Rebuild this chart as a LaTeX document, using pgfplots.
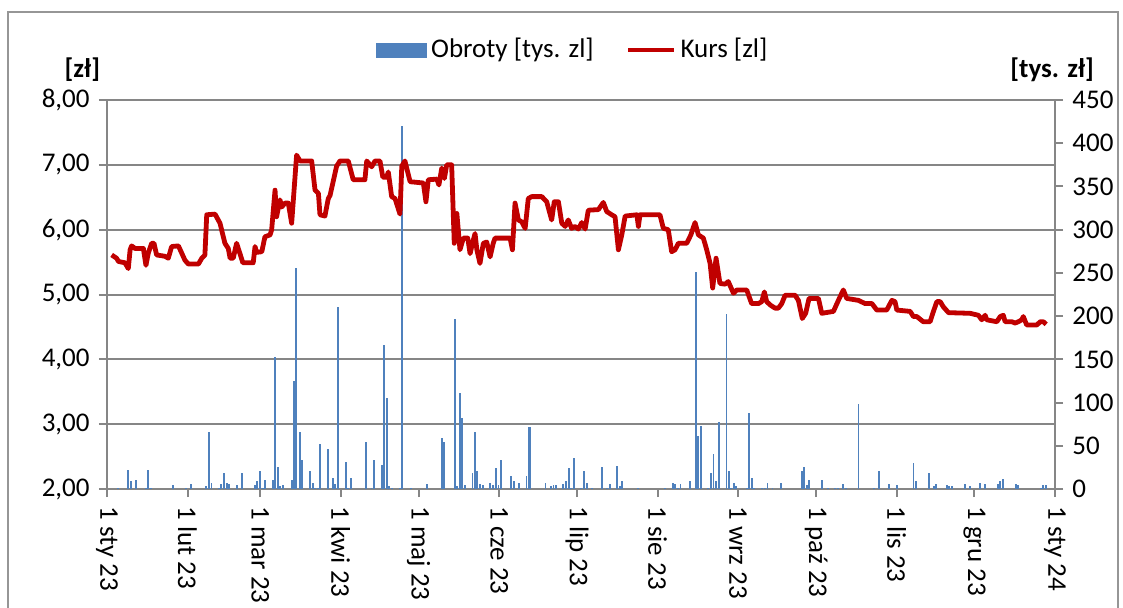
\documentclass[border=0pt]{standalone}
\usepackage{pgfplots}
\pgfplotsset{compat=1.18}
\usepackage{fontspec}
\setmainfont{Carlito}
\definecolor{barblue}{RGB}{79,129,189}
\definecolor{kurs}{RGB}{192,0,0}
\definecolor{gridgray}{RGB}{134,134,134}
\definecolor{framegray}{RGB}{150,150,150}
\pgfplotsset{
  base/.style={
    scale only axis, width=474pt, height=194.5pt,
    at={(0pt,0pt)}, anchor=south west,
    xmin=0, xmax=365,
    /pgf/number format/assume math mode=true,
  }
}
\begin{document}
\fontsize{13.5}{16}\selectfont
\begin{tikzpicture}
\path[use as bounding box] (-53.5pt,-59pt) rectangle (508pt,244.5pt);
\draw[framegray, line width=1pt] (-49.5pt,-62pt) -- (-49.5pt,238.5pt) -- (505.5pt,238.5pt) -- (505.5pt,-62pt);
% axis 1: grid, left scale, dates
\begin{axis}[base,
  ymin=2, ymax=8, ytick={2,3,...,8},
  ymajorgrids, grid style={gridgray, line width=1pt},
  axis x line*=bottom, axis y line*=left,
  axis line style={gridgray, line width=1pt},
  tick style={gridgray, line width=1pt},
  tick align=outside, major tick length=4pt,
  xtick={0,31,59,90,120,151,181,212,243,273,304,334,365},
  xticklabels={1 sty 23,1 lut 23,1 mar 23,1 kwi 23,1 maj 23,1 cze 23,1 lip 23,1 sie 23,1 wrz 23,1 paź 23,1 lis 23,1 gru 23,1 sty 24},
  xticklabel style={rotate=-90, anchor=west, yshift=0pt},
  yticklabel style={/pgf/number format/.cd, fixed, fixed zerofill, precision=2, use comma},
]
\addplot[draw=none] coordinates {(0,2)};
\end{axis}
% axis 2: bars, right scale
\begin{axis}[base,
  ymin=0, ymax=450, ytick={0,50,...,450},
  axis y line*=right, axis x line=none,
  axis line style={gridgray, line width=1pt},
  tick style={gridgray, line width=1pt},
  tick align=outside, major tick length=4pt,
  yticklabel style={/pgf/number format/.cd, fixed},
]
\addplot[ycomb, mark=none, draw=barblue, line width=0.9pt] coordinates {
(4.1,1.5)(8.0,22)(9.1,9)(11.1,10)(14.9,1.5)(15.9,22)(16.9,1.5)(25.4,5)(30.3,1.5)(32.3,6)
(38.1,3)(39.2,66)(40.2,7)(43.1,1.5)(44.0,6)(45.1,18)(46.1,7)(47.1,6)(50.1,5)(52.0,18)
(56.9,5)(57.9,9)(58.9,21)(60.0,1.5)(60.8,10)(63.8,10)(64.8,153)(65.8,25)(66.7,3)(67.8,5)
(71.1,10)(72.1,125)(72.9,256)(74.2,66)(75.2,34)(78.2,21)(79.2,7)(80.1,1.5)(81.1,1.5)(82.0,52)
(85.0,46)(87.0,13)(87.9,6)(88.9,210)(91.9,31)(92.9,1.5)(93.8,13)(99.7,54)(101.8,1.5)(102.7,34)
(105.8,28)(106.8,167)(107.7,105)(108.7,3)(109.6,1.5)(112.7,1.5)(113.6,420)(117.1,1.5)(123.1,6)
(128.9,59)(129.9,54)(133.9,197)(134.9,3)(135.8,111)(136.8,82)(137.7,5)(140.7,18)(141.7,66)
(142.6,21)(143.6,6)(144.7,5)(147.6,7)(148.6,5)(149.7,24)(150.7,5)(151.6,33)(155.6,15)(156.6,9)
(158.5,7)(161.5,15)(162.3,72)(162.9,72)(168.8,7)(170.9,3)(171.9,5)(172.8,5)(175.7,6)(176.7,9)
(177.8,24)(178.7,1.5)(179.7,36)(182.6,1.5)(183.7,21)(184.7,7)(186.6,1.5)(190.5,25)(192.5,1.5)
(193.6,6)(196.5,27)(197.4,3)(198.4,9)(204.5,1.5)(214.9,1.5)(217.8,7)(218.7,6)(219.8,1.5)(220.8,6)
(224.6,9)(226.7,251)(227.6,61)(228.6,73)(231.5,1.5)(232.6,19)(233.5,40)(234.5,9)(235.5,78)
(238.5,203)(239.4,21)(240.4,1.5)(241.3,7)(242.3,3)(246.3,1.5)(247.3,88)(248.2,13)(249.2,1.5)
(252.2,1.5)(253.3,1.5)(254.3,7)(256.2,1.5)(259.6,7)(267.5,21)(268.4,25)(269.4,5)(270.4,10)
(275.4,10)(277.5,1.5)(280.4,1.5)(281.4,1.5)(283.4,6)(284.4,1.5)(289.3,98)(295.2,1.5)(297.2,21)
(301.1,6)(304.1,5)(310.5,30)(311.4,9)(316.4,19)(318.3,3)(319.3,6)(323.3,5)(324.2,3)(325.3,3)
(330.3,6)(332.2,3)(336.0,7)(338.1,6)(343.0,6)(343.9,9)(344.9,12)(349.9,6)(350.8,5)(359.6,1.5)
(360.5,5)(361.5,5)
};
\end{axis}
% axis 3: price line, legend, unit labels
\begin{axis}[base,
  ymin=2, ymax=8, hide axis, clip=false,
  legend columns=2,
  legend style={draw=none, fill=none, at={(0.4925,1.1285)}, anchor=center,
    font=\fontsize{13.5}{16}\selectfont,
    /tikz/every even column/.append style={column sep=14pt}},
]
\addlegendimage{legend image code/.code={\fill[barblue] (0pt,-3.5pt) rectangle (25pt,3.5pt);}}
\addlegendentry{Obroty [tys. zl]}
\addplot[kurs, line width=2.4pt, line join=round, mark=none,
  legend image code/.code={\draw[kurs, line width=2.4pt] (0pt,0pt) -- (23pt,0pt);}] coordinates {
(1.8,5.61)(3.7,5.56)(4.4,5.51)(6.9,5.49)(8.2,5.40)(8.9,5.69)(9.5,5.75)(10.8,5.71)(14.0,5.71)
(15.0,5.45)(15.9,5.64)(17.2,5.79)(18.1,5.79)(19.1,5.61)(22.3,5.59)(23.6,5.56)(24.9,5.74)(27.5,5.75)
(30.0,5.53)(31.3,5.47)(35.2,5.47)(36.5,5.56)(37.7,5.61)(38.4,6.23)(41.6,6.24)(43.5,6.10)(45.4,5.79)
(46.7,5.71)(47.4,5.56)(48.6,5.56)(49.9,5.79)(51.2,5.63)(52.3,5.49)(56.3,5.49)(57.0,5.74)(57.6,5.65)
(59.6,5.66)(60.8,5.89)(62.8,5.92)(63.4,6.00)(64.7,6.61)(65.3,6.20)(66.6,6.46)(67.3,6.35)(68.5,6.41)
(69.8,6.41)(71.1,6.10)(73.0,7.15)(74.3,7.06)(78.8,7.06)(80.1,6.61)(81.4,6.56)(82.0,6.23)(83.9,6.21)
(85.2,6.48)(85.9,6.53)(88.4,6.98)(89.7,7.06)(92.9,7.06)(94.8,6.77)(99.3,6.77)(100.0,7.06)(101.9,6.97)
(103.2,7.06)(105.1,7.06)(106.2,6.81)(107.7,6.81)(108.3,6.89)(109.6,6.51)(110.9,6.48)(112.8,6.24)
(113.5,6.98)(114.7,7.06)(116.7,6.74)(121.8,6.72)(122.8,6.43)(123.7,6.77)(127.0,6.78)(127.8,6.69)
(128.9,6.95)(129.9,6.79)(130.8,7.00)(132.7,7.00)(133.7,5.79)(134.7,6.25)(135.9,5.69)(137.2,5.87)
(138.9,5.87)(139.8,5.63)(140.7,5.79)(141.7,5.94)(142.4,5.69)(143.6,5.48)(144.9,5.79)(146.2,5.81)
(147.5,5.58)(148.7,5.79)(149.4,5.87)(155.2,5.87)(156.1,5.69)(157.1,6.41)(158.4,6.15)(159.7,6.12)
(161.0,6.02)(162.2,6.48)(163.5,6.51)(167.4,6.51)(169.3,6.43)(171.2,6.15)(172.2,6.43)(173.8,6.43)
(175.1,6.10)(176.4,6.05)(177.6,6.15)(178.9,6.02)(180.2,6.05)(181.5,6.01)(182.8,6.11)(184.1,6.01)
(185.3,6.30)(189.2,6.31)(191.1,6.42)(192.4,6.28)(194.3,6.23)(195.6,6.20)(196.9,5.69)(198.2,5.92)
(199.5,6.21)(204.0,6.23)(204.6,6.05)(205.2,6.23)(212.9,6.23)(214.2,6.02)(216.1,6.00)(217.4,5.66)
(218.7,5.69)(220.0,5.79)(223.2,5.79)(224.8,5.92)(226.4,6.11)(227.7,5.92)(229.6,5.87)(230.9,5.69)
(232.2,5.48)(233.2,5.10)(234.5,5.56)(236.0,5.17)(238.0,5.16)(239.2,5.20)(241.2,5.02)(242.5,5.07)
(246.3,5.07)(248.2,4.86)(250.8,4.86)(252.1,4.89)(253.1,5.04)(254.0,4.89)(255.3,4.84)(257.2,4.79)
(258.5,4.79)(259.8,4.86)(261.1,4.99)(264.9,4.99)(266.2,4.91)(267.7,4.63)(269.0,4.71)(270.3,4.94)
(273.9,4.94)(275.2,4.71)(279.7,4.74)(281.6,4.91)(283.5,5.07)(284.8,4.94)(289.3,4.91)(291.9,4.86)
(294.5,4.86)(296.4,4.76)(300.2,4.76)(302.2,4.91)(303.4,4.89)(304.1,4.76)(309.2,4.74)(310.5,4.66)
(311.8,4.66)(314.3,4.58)(316.9,4.58)(318.2,4.74)(319.5,4.89)(320.8,4.89)(322.0,4.81)(324.0,4.72)
(332.3,4.71)(335.5,4.68)(336.8,4.61)(338.1,4.68)(338.7,4.61)(342.6,4.58)(343.9,4.66)(345.1,4.68)
(345.8,4.58)(348.4,4.58)(349.6,4.56)(350.9,4.58)(352.2,4.61)(352.8,4.66)(354.1,4.53)(358.0,4.53)
(359.3,4.58)(360.5,4.58)(361.6,4.54)
};
\addlegendentry{Kurs [zl]}
\node[font=\bfseries\fontsize{13.5}{16}\selectfont] at (rel axis cs:-0.026,1.077) {[zł]};
\node[font=\bfseries\fontsize{13.5}{16}\selectfont] at (rel axis cs:0.997,1.077) {[tys. zł]};
\end{axis}
\end{tikzpicture}
\end{document}
